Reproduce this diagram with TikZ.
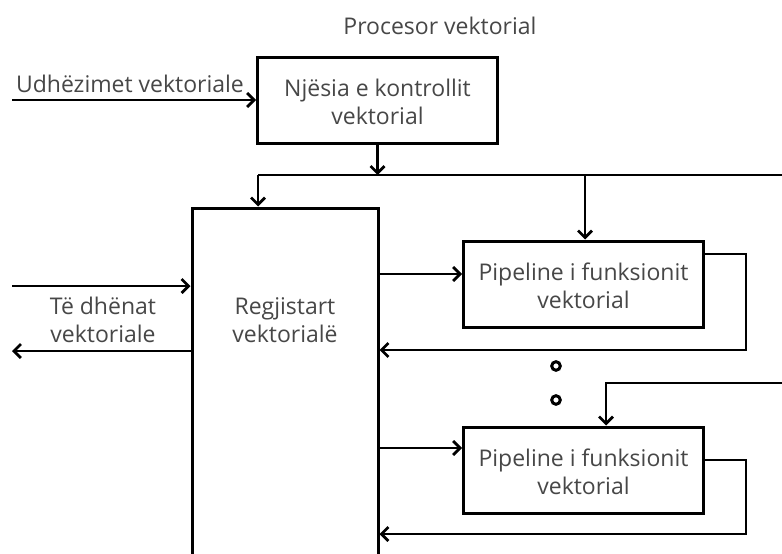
\documentclass[tikz,border=0pt]{standalone}
\usepackage{fontspec}
\setmainfont{Open Sans}
\usetikzlibrary{arrows.meta}
\definecolor{txt}{HTML}{474747}
\tikzset{
  blk/.style={draw=black, line width=3pt, minimum width=240pt, minimum height=86pt, inner sep=0pt},
  lbl/.style={text=txt, align=center, font=\fontsize{23}{28.5}\selectfont, inner sep=0pt},
  wire/.style={line width=2.8pt, black},
  arr/.style={wire, -{Straight Barb[length=7pt,width=14pt,line width=2.8pt]}},
  dot/.style={line width=3pt, black}
}
\begin{document}
\begin{tikzpicture}[x=1pt,y=-1pt]
\clip (0,0) rectangle (782,554);
\fill[white] (0,0) rectangle (782,554);
% title
\node[lbl] (title) at (440,26) {Procesor vektorial};
% blocks
\node[blk] (ctrl) at (377.5,100) {};
\node[lbl] (ctrltxt) at (377.5,102) {Njësia e kontrollit\\vektorial};
\node[blk, minimum width=186pt, minimum height=352pt] (reg) at (285,384) {};
\node[lbl] (regtxt) at (285,320) {Regjistart\\vektorialë};
\node[blk] (p1) at (583.5,284) {};
\node[lbl] (p1txt) at (583.5,286) {Pipeline i funksionit\\vektorial};
\node[blk] (p2) at (583.5,470) {};
\node[lbl] (p2txt) at (583.5,472) {Pipeline i funksionit\\vektorial};
% input instructions
\coordinate (inA) at (12,100);
\draw[arr] (inA) -- (ctrl.west);
\node[lbl] (inlbl) at (130,84) {Udhëzimet vektoriale};
% control to bus
\coordinate (busC) at (377.5,175);
\coordinate (busL) at (258,175);
\coordinate (busR) at (782,175);
\coordinate (busP) at (585,175);
\draw[arr] (ctrl.south) -- (busC);
\draw[wire] (busR) -- (busL);
\draw[arr] (busL) -- (busL |- reg.north);
\draw[arr] (busP) -- (busP |- p1.north);
% data in/out
\coordinate (dIn) at (12,286);
\coordinate (dOut) at (12,351);
\draw[arr] (dIn) -- (dIn -| reg.west);
\draw[arr] (dOut -| reg.west) -- (dOut);
\node[lbl] (dlbl) at (103,320) {Të dhënat\\vektoriale};
% register to pipelines
\coordinate (r1) at (378,274);
\coordinate (r2) at (378,448);
\draw[arr] (r1) -- (r1 -| p1.west);
\draw[arr] (r2) -- (r2 -| p2.west);
% feedback 1
\coordinate (f1a) at (746,254);
\coordinate (f1b) at (746,350);
\draw[arr] (f1a -| p1.east) -- (f1a) -- (f1b) -- (f1b -| reg.east);
% feedback 2
\coordinate (f2a) at (746,460);
\coordinate (f2b) at (746,534);
\draw[arr] (f2a -| p2.east) -- (f2a) -- (f2b) -- (f2b -| reg.east);
% second control line
\coordinate (c2R) at (782,383);
\coordinate (c2C) at (606,383);
\draw[arr] (c2R) -- (c2C) -- (c2C |- p2.north);
% dots
\draw[dot] (556,366) circle (4.3pt);
\draw[dot] (556,400) circle (4.3pt);
\end{tikzpicture}
\end{document}
